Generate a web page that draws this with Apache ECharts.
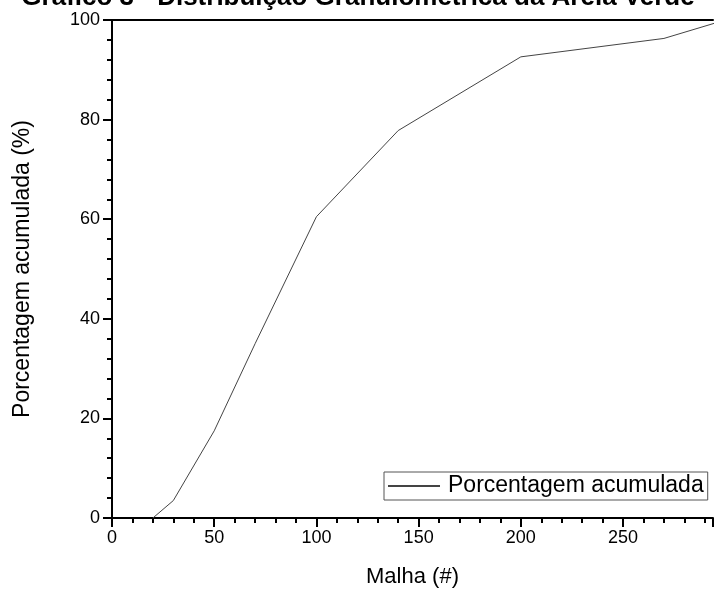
<!DOCTYPE html>
<html>
<head>
<meta charset="utf-8">
<script src="https://cdn.jsdelivr.net/npm/echarts@6/dist/echarts.min.js"></script>
<style>html,body{margin:0;padding:0;background:#fff}#c{width:716px;height:593px}</style>
</head>
<body>
<div id="c"></div>
<script>
const titleText = 'Gráfico 3 - Distribuição Granulométrica da Areia Verde';
const seriesName = 'Porcentagem acumulada';
const malha = [20, 30, 50, 70, 100, 140, 200, 270, 300];
const porcentagem = [0, 3.5, 17.5, 35, 60.5, 77.8, 92.6, 96.3, 100];
const xTicks = [0, 50, 100, 150, 200, 250];
const yTicks = [0, 20, 40, 60, 80, 100];

const FONT = '"Liberation Sans", Arial, sans-serif';
const chart = echarts.init(document.getElementById('c'), null, {renderer: 'canvas'});
chart.setOption({
  animation: false,
  backgroundColor: '#fff',
  title: {
    text: titleText, left: 'center', top: -20,
    textStyle: {fontFamily: FONT, fontSize: 26, fontWeight: 'bold', color: '#000'}
  },
  legend: {
    data: [seriesName], left: 384, top: 472, orient: 'horizontal',
    itemWidth: 52, itemHeight: 2, itemGap: 4,
    borderColor: '#555', borderWidth: 1, borderRadius: 0,
    padding: [1, 4, 1, 3],
    textStyle: {fontFamily: FONT, fontSize: 23, lineHeight: 26, color: '#000', padding: [0, 0, 0, 3]}
  },
  grid: {left: 112, right: 0, top: 20, bottom: 72, containLabel: false},
  xAxis: [{
    type: 'value', min: 0, max: 294, interval: 50, splitNumber: 5,
    name: 'Malha (#)', nameLocation: 'middle', nameGap: 48,
    nameTextStyle: {fontFamily: FONT, fontSize: 22, color: '#000'},
    axisLine: {show: true, onZero: false, lineStyle: {color: '#000', width: 2}},
    axisTick: {show: true, length: 9, lineStyle: {color: '#000', width: 2}},
    minorTick: {show: true, splitNumber: 5, length: 5, lineStyle: {color: '#000', width: 2}},
    axisLabel: {fontFamily: FONT, fontSize: 18, color: '#000', margin: 11,
      formatter: v => xTicks.includes(v) ? String(v) : ''},
    splitLine: {show: false}
  }, {
    type: 'value', position: 'top', min: 0, max: 294,
    axisLine: {show: true, onZero: false, lineStyle: {color: '#000', width: 2}},
    axisTick: {show: false}, axisLabel: {show: false}, splitLine: {show: false}
  }],
  yAxis: {
    type: 'value', min: 0, max: 100, interval: 20,
    name: 'Porcentagem acumulada (%)', nameLocation: 'middle', nameGap: 78,
    nameTextStyle: {fontFamily: FONT, fontSize: 23, color: '#000'},
    axisLine: {show: true, onZero: false, lineStyle: {color: '#000', width: 2}},
    axisTick: {show: true, length: 9, lineStyle: {color: '#000', width: 2}},
    minorTick: {show: true, splitNumber: 5, length: 5, lineStyle: {color: '#000', width: 2}},
    axisLabel: {fontFamily: FONT, fontSize: 18, color: '#000', margin: 12,
      formatter: v => yTicks.includes(v) ? String(v) : ''},
    splitLine: {show: false}
  },
  series: [{
    name: seriesName, type: 'line', xAxisIndex: 0,
    data: malha.map((m, i) => [m, porcentagem[i]]),
    showSymbol: false, symbol: 'none', clip: true,
    lineStyle: {color: '#444', width: 1}, itemStyle: {color: '#444'}
  }]
});
</script>
</body>
</html>
